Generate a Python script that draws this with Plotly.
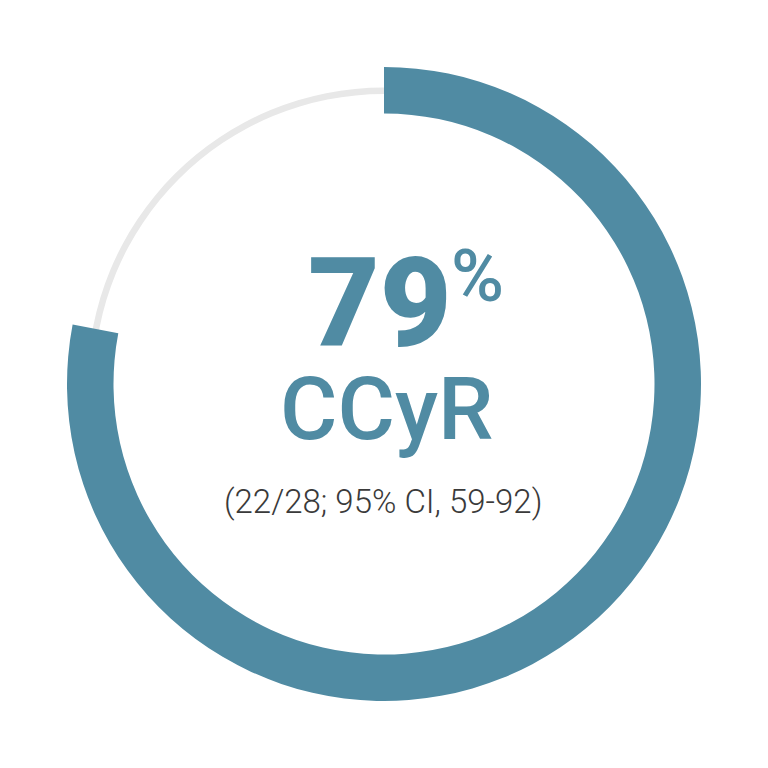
import plotly.graph_objects as go

# Data
arc_labels = ["CCyR", "Other"]
arc_values = [78, 22]          # arc drawn to ~78% of circle
headline = "79"
headline_unit = "%"
endpoint = "CCyR"
detail = "(22/28; 95% CI, 59-92)"

TEAL = "#508ba3"
GRAY = "#e8e8e8"
W = H = 768

def dom(r_px):
    f = r_px / W
    return [0.5 - f, 0.5 + f]

fig = go.Figure()
# thin background ring
fig.add_trace(go.Pie(
    values=[1], labels=["bg"], hole=290 / 296.5,
    domain=dict(x=dom(296.5), y=dom(296.5)),
    marker=dict(colors=[GRAY], line=dict(width=0)),
    textinfo="none", hoverinfo="skip", sort=False, showlegend=False,
))
# thick progress arc
fig.add_trace(go.Pie(
    values=arc_values, labels=arc_labels, hole=270.5 / 317,
    domain=dict(x=dom(317), y=dom(317)),
    marker=dict(colors=[TEAL, "rgba(0,0,0,0)"], line=dict(width=0)),
    direction="clockwise", rotation=0, sort=False,
    textinfo="none", hoverinfo="skip", showlegend=False,
))

def py(v):
    return 1 - v / H

def px(v):
    return v / W

fig.add_annotation(text=headline, x=px(380), y=py(303), xref="paper", yref="paper",
                   xanchor="center", yanchor="middle", showarrow=False,
                   font=dict(family="Roboto", size=124, color=TEAL, weight=900))
fig.add_annotation(text=headline_unit, x=px(449), y=py(277), xref="paper", yref="paper",
                   xanchor="left", yanchor="middle", showarrow=False,
                   font=dict(family="Roboto", size=72, color=TEAL, weight=500))
fig.add_annotation(text=endpoint, x=px(386), y=py(408), xref="paper", yref="paper",
                   xanchor="center", yanchor="middle", showarrow=False,
                   font=dict(family="Roboto", size=88, color=TEAL, weight=500))
fig.add_annotation(text=detail, x=px(383), y=py(501), xref="paper", yref="paper",
                   xanchor="center", yanchor="middle", showarrow=False,
                   font=dict(family="Roboto", size=33, color="#3a3a3a", weight=300))

fig.update_layout(width=W, height=H, margin=dict(l=0, r=0, t=0, b=0),
                  paper_bgcolor="white", plot_bgcolor="white")
fig.write_html("out.html", config={"displayModeBar": False},
               post_script="document.body.style.margin='0';document.body.style.overflow='hidden';")
